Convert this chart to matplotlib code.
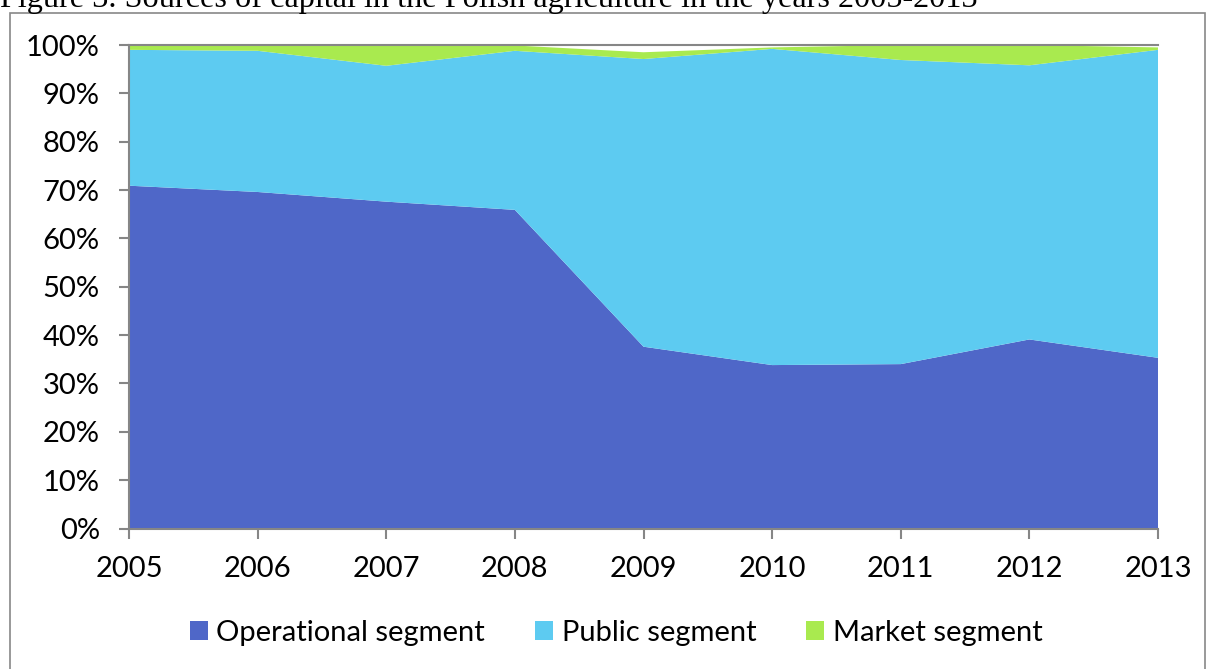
import matplotlib
matplotlib.use("Agg")
import matplotlib.pyplot as plt
from matplotlib.patches import Patch, Rectangle
from matplotlib.ticker import FuncFormatter

years = [2005, 2006, 2007, 2008, 2009, 2010, 2011, 2012, 2013]
operational = [70.9, 69.6, 67.6, 65.9, 37.6, 33.8, 34.0, 39.1, 35.3]
public = [28.1, 29.2, 28.1, 32.9, 59.5, 65.4, 62.9, 56.7, 63.7]
market = [1.0, 1.2, 4.3, 1.1, 1.4, 0.3, 3.1, 4.2, 0.5]
series_names = ["Operational segment", "Public segment", "Market segment"]
colors = ["#4F67C8", "#5DCBF1", "#A9EA4F"]
title = "Figure 3. Sources of capital in the Polish agriculture in the years 2005-2013"

W, H = 1206, 669
fig = plt.figure(figsize=(W / 100, H / 100), dpi=100)
plt.rcParams['font.family'] = ['Lato', 'DejaVu Sans']

# outer border of the chart object
fig.patches.append(Rectangle((10 / W, -0.05), (1205 - 10) / W, 1.05 - 13 / H,
                             transform=fig.transFigure, fill=False,
                             edgecolor="#888888", linewidth=1.2))

# title (partially cropped at top, as in the source)
t = fig.text(0.0, 1 - 7.5 / H, title, family="Liberation Serif", fontsize=20,
             ha="left", va="baseline")
fig.canvas.draw()
bb = t.get_window_extent(renderer=fig.canvas.get_renderer())
t.set_fontsize(20 * 977 / bb.width)

fs = 21
left, right, top, bottom = 129, 1158, 45, 528.5
ax = fig.add_axes([left / W, 1 - bottom / H, (right - left) / W, (bottom - top) / H])
ax.stackplot(years, operational, public, market, colors=colors, linewidth=0,
             labels=series_names)
ax.set_xlim(years[0], years[-1])
ax.set_ylim(0, 100)
ax.set_xticks(years)
ax.set_yticks(range(0, 101, 10))
ax.yaxis.set_major_formatter(FuncFormatter(lambda v, p: f"{int(v)}%"))
ax.spines["right"].set_visible(False)
for s in ["left", "bottom", "top"]:
    ax.spines[s].set_color("#868686")
    ax.spines[s].set_linewidth(1.5)
ax.tick_params(axis="both", colors="#868686", length=7, width=1.5,
               labelcolor="black", labelsize=fs)
ax.tick_params(axis="x", pad=13)
ax.tick_params(axis="y", pad=14)

handles = [Patch(facecolor=c, edgecolor="none") for c in colors]
fig.legend(handles, series_names, loc="center", ncol=3, frameon=False,
           bbox_to_anchor=(616 / W, 1 - 633 / H), fontsize=fs,
           handlelength=0.62, handleheight=0.62, handletextpad=0.3,
           columnspacing=1.7)

fig.savefig("out.png", dpi=100)
